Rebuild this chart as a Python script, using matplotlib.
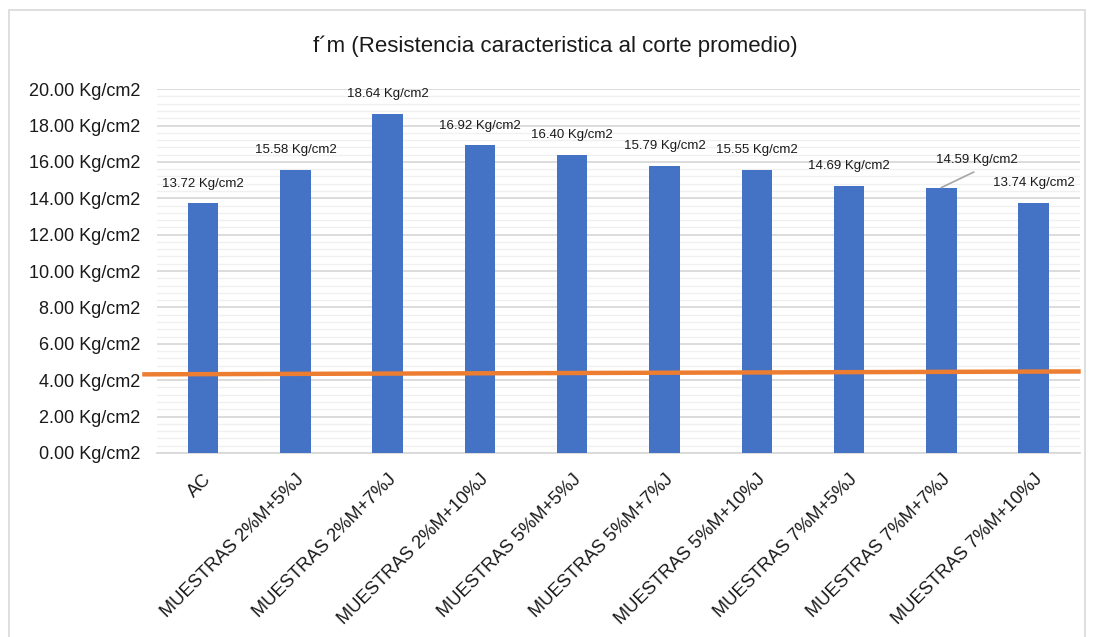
import matplotlib.pyplot as plt
import numpy as np
from matplotlib.patches import Rectangle
from matplotlib.ticker import MultipleLocator, FuncFormatter

plt.rcParams['font.family'] = ['Liberation Sans', 'DejaVu Sans']

categorias = ['AC', 'MUESTRAS 2%M+5%J', 'MUESTRAS 2%M+7%J', 'MUESTRAS 2%M+10%J',
              'MUESTRAS 5%M+5%J', 'MUESTRAS 5%M+7%J', 'MUESTRAS 5%M+10%J',
              'MUESTRAS 7%M+5%J', 'MUESTRAS 7%M+7%J', 'MUESTRAS 7%M+10%J']
fm = [13.72, 15.58, 18.64, 16.92, 16.40, 15.79, 15.55, 14.69, 14.59, 13.74]

# linea de referencia (valor minimo), extremos izquierdo y derecho
ref_x = [-0.66, 9.51]
ref_y = [4.32, 4.48]

azul = '#4472C4'
naranja = '#ED7D31'
texto = '#1a1a1a'

fig = plt.figure(figsize=(10.94, 6.37), dpi=100)
ax = fig.add_axes([0.1435, 0.289, 0.8435, 0.571])

x = np.arange(len(categorias))
ax.bar(x, fm, width=0.33, color=azul, zorder=3)

ax.set_xlim(-0.5, len(categorias) - 0.5)
ax.set_ylim(0, 20)
ax.yaxis.set_major_locator(MultipleLocator(2))
ax.yaxis.set_minor_locator(MultipleLocator(0.4))
ax.yaxis.set_major_formatter(FuncFormatter(lambda v, p: f'{v:.2f} Kg/cm2'))
ax.grid(axis='y', which='major', color='#d9d9d9', linewidth=1.3, zorder=0)
ax.grid(axis='y', which='minor', color='#f0f0f0', linewidth=1.0, zorder=0)
ax.tick_params(axis='y', which='both', length=0, labelsize=13, pad=12, colors=texto)
ax.tick_params(axis='x', length=0, labelsize=13.2, pad=13, colors=texto)
ax.set_xticks(x)
ax.set_xticklabels(categorias, rotation=45, ha='right', rotation_mode='anchor')

for s in ['top', 'right', 'left']:
    ax.spines[s].set_visible(False)
ax.spines['bottom'].set_color('#d9d9d9')
ax.spines['bottom'].set_linewidth(1.3)

# etiquetas de valor sobre cada barra
for i, v in enumerate(fm):
    etiqueta = f'{v:.2f} Kg/cm2'
    if i == 8:
        # etiqueta desplazada con linea guia
        ax.plot([i, i + 0.35], [v, v + 0.85], color='#a6a6a6', lw=1.2, zorder=5)
        ax.text(i + 0.38, v + 1.5, etiqueta, ha='center', va='center',
                fontsize=9.5, color=texto, zorder=5)
    else:
        ax.text(i, v + 0.75, etiqueta, ha='center', va='bottom',
                fontsize=9.5, color=texto, zorder=5)

ax.plot(ref_x, ref_y, color=naranja, linewidth=3.2, clip_on=False, zorder=4,
        solid_capstyle='butt')

fig.text(0.508, 0.928, 'f´m (Resistencia caracteristica al corte promedio)',
         ha='center', va='center', fontsize=16, color=texto)

fig.patches.append(Rectangle((0.008, -0.01), 0.984, 0.995, transform=fig.transFigure,
                             fill=False, edgecolor='#d9d9d9', linewidth=1.2))

fig.savefig('out.png', dpi=100)
